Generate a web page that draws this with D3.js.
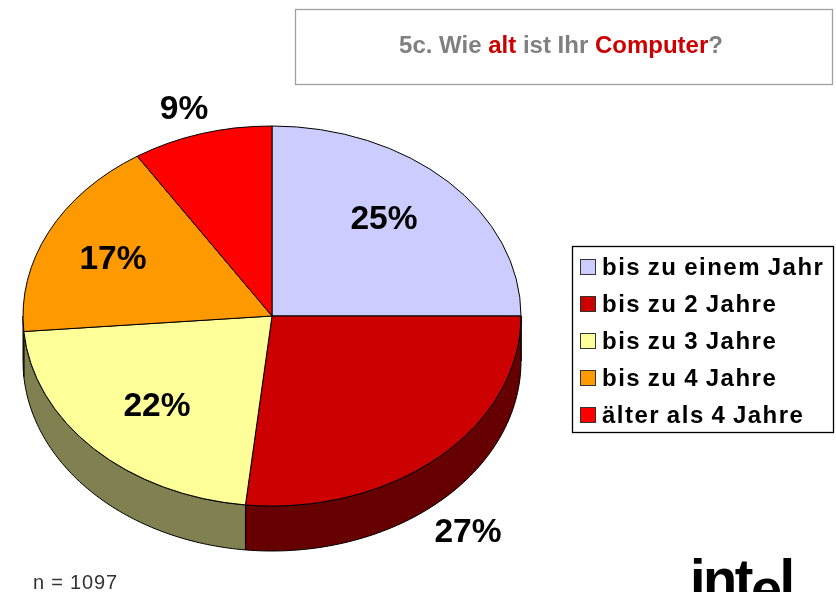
<!DOCTYPE html>
<html><head><meta charset="utf-8">
<script src="https://cdn.jsdelivr.net/npm/d3@7"></script>
<style>html,body{margin:0;background:#fff;overflow:hidden}svg{display:block;filter:blur(0.45px)}text{font-family:"Liberation Sans",Arial,sans-serif}</style>
</head><body><script>
const categories=["bis zu einem Jahr","bis zu 2 Jahre","bis zu 3 Jahre","bis zu 4 Jahre","älter als 4 Jahre"];
const values=[25,26.7,22,17.2,9.1];
const labels=["25%","27%","22%","17%","9%"];
const colors=["#ccccff","#cc0000","#ffff99","#ff9900","#ff0000"];
const sideColors=["#666680","#660000","#808050","#808050","#800000"];
const labelPos=[[384,217],[468,530],[157,404],[113,257],[184,107]];
const titleParts=[["5c. Wie ","#808080"],["alt","#cc0000"],[" ist Ihr ","#808080"],["Computer","#cc0000"],["?","#808080"]];
const W=836,H=592,cx=272,cy=316,rx=249,ry=190,depth=45;
const svg=d3.select("body").append("svg").attr("width",W).attr("height",H);
const arcs=d3.pie().sort(null).value(d=>d)(values);
const ex=a=>cx+rx*Math.sin(a), ey=a=>cy-ry*Math.cos(a);
const g=svg.append("g");
const sideLine=d3.line();
arcs.forEach((a,i)=>{
  const s=Math.max(a.startAngle,Math.PI/2), e=Math.min(a.endAngle,Math.PI*1.5);
  if(e<=s) return;
  const n=80, top=[],bot=[];
  for(let k=0;k<=n;k++){const t=s+(e-s)*k/n;top.push([ex(t),ey(t)]);bot.push([ex(t),ey(t)+depth]);}
  g.append("path").attr("d",sideLine(top.concat(bot.reverse()))+"Z")
   .attr("fill",sideColors[i]).attr("stroke","#000").attr("stroke-width",1);
});
const arc=d3.arc().innerRadius(0).outerRadius(rx);
const faces=g.append("g").attr("transform",`translate(${cx},${cy}) scale(1,${ry/rx})`);
faces.selectAll("path").data(arcs).join("path").attr("d",arc)
  .attr("fill",(d,i)=>colors[i]).attr("stroke","#000").attr("stroke-width",1)
  .attr("vector-effect","non-scaling-stroke");
svg.selectAll("text.pct").data(labels).join("text").attr("class","pct")
  .attr("x",(d,i)=>labelPos[i][0]).attr("y",(d,i)=>labelPos[i][1]).attr("dy","0.36em")
  .attr("text-anchor","middle").attr("font-size",33.5).attr("font-weight","bold").attr("fill","#000").text(d=>d);
svg.append("rect").attr("x",295.5).attr("y",9.5).attr("width",537).attr("height",75)
  .attr("fill","#fff").attr("stroke","#a0a0a0").attr("stroke-width",1.3);
const title=svg.append("text").attr("x",561).attr("y",53).attr("text-anchor","middle")
  .attr("font-size",24).attr("font-weight","bold");
title.selectAll("tspan").data(titleParts).join("tspan").attr("fill",d=>d[1]).style("white-space","pre").text(d=>d[0]);
svg.append("rect").attr("x",572.5).attr("y",246.5).attr("width",261).attr("height",186)
  .attr("fill","#fff").attr("stroke","#000").attr("stroke-width",1.3);
const ly=d3.scalePoint().domain(categories).range([267,415]);
const leg=svg.selectAll("g.leg").data(categories).join("g").attr("class","leg")
  .attr("transform",d=>`translate(0,${ly(d)})`);
leg.append("rect").attr("x",580.5).attr("y",-7.5).attr("width",15).attr("height",15)
  .attr("fill",(d,i)=>colors[i]).attr("stroke","#333").attr("stroke-width",1);
leg.append("text").attr("x",602).attr("y",8).attr("font-size",24).attr("font-weight","bold")
  .attr("letter-spacing",1.5).attr("word-spacing",-1.5).attr("fill","#000").text(d=>d);
svg.append("text").attr("x",33).attr("y",589).attr("font-size",20).attr("letter-spacing",0.8).attr("fill","#333").text("n = 1097");
const logo=svg.append("text").attr("x",690).attr("y",598).attr("font-size",56).attr("font-weight","bold").attr("fill","#000").attr("letter-spacing",-2.5);
logo.append("tspan").text("int");
logo.append("tspan").attr("dy",10).text("e");
logo.append("tspan").attr("dy",-10).text("l");
</script></body></html>
